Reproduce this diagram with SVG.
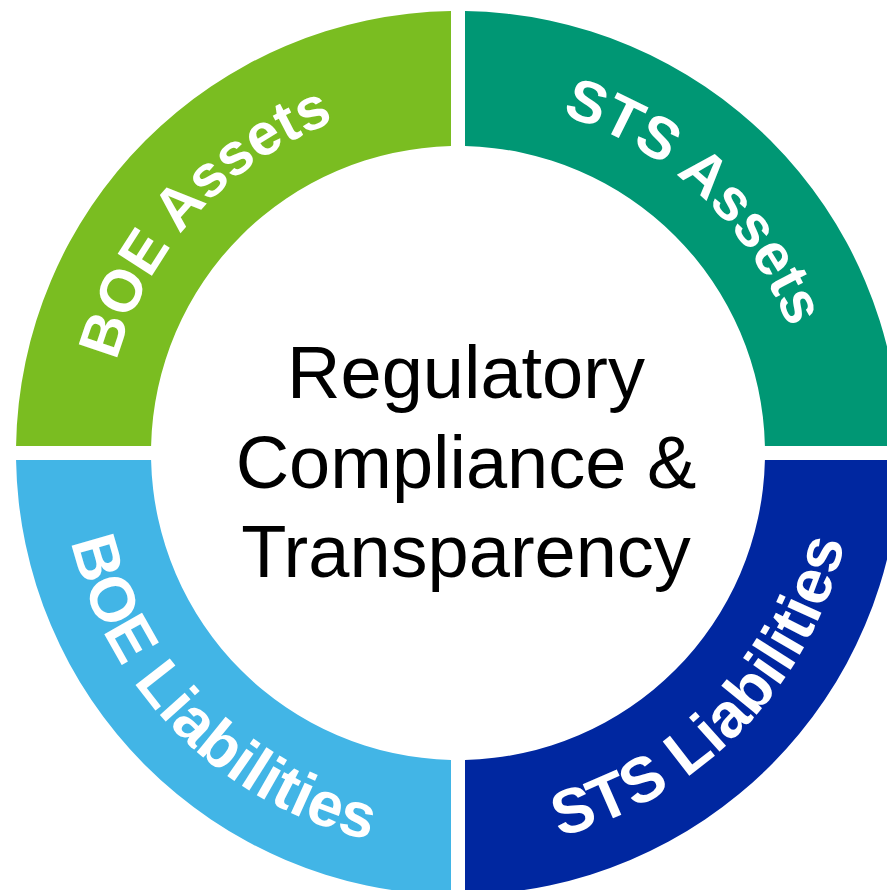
<svg xmlns="http://www.w3.org/2000/svg" xmlns:xlink="http://www.w3.org/1999/xlink" width="887" height="890" viewBox="0 0 887 890">
<style>
.lbl{font-family:"Liberation Sans",Arial,sans-serif;font-weight:bold;fill:#fff;text-anchor:middle}
.ctr{font-family:"Liberation Sans",Arial,sans-serif;font-size:74px;fill:#000;text-anchor:middle}
</style>
<defs>
<path id="topArc" d="M 104.5 453 A 353.5 353.5 0 0 1 811.5 453"/>
<path id="botArc" d="M 61 453 A 397 397 0 0 0 855 453"/>
</defs>
<rect width="887" height="890" fill="#fff"/>
<g id="boe-assets">
<path d="M 451 11.06 A 442 442 0 0 0 16.06 446 L 151.08 446 A 307 307 0 0 1 451 146.08 Z" fill="#7ABD21"/>
<text class="lbl" font-size="59"><textPath xlink:href="#topArc" href="#topArc" startOffset="23.5%">BOE Assets</textPath></text>
</g>
<g id="sts-assets">
<path d="M 465 11.06 A 442 442 0 0 1 899.94 446 L 764.92 446 A 307 307 0 0 0 465 146.08 Z" fill="#009774"/>
<text class="lbl" font-size="59"><textPath xlink:href="#topArc" href="#topArc" startOffset="74%">STS Assets</textPath></text>
</g>
<g id="sts-liabilities">
<path d="M 899.94 460 A 442 442 0 0 1 465 894.94 L 465 759.92 A 307 307 0 0 0 764.92 460 Z" fill="#0027A0"/>
<text class="lbl" font-size="63"><textPath xlink:href="#botArc" href="#botArc" startOffset="75.5%">STS Liabilities</textPath></text>
</g>
<g id="boe-liabilities">
<path d="M 451 894.94 A 442 442 0 0 1 16.06 460 L 151.08 460 A 307 307 0 0 0 451 759.92 Z" fill="#42B5E6"/>
<text class="lbl" font-size="63"><textPath xlink:href="#botArc" href="#botArc" startOffset="25%">BOE Liabilities</textPath></text>
</g>
<g id="center">
<text class="ctr" x="466" y="398">Regulatory</text>
<text class="ctr" x="466" y="487.5">Compliance &amp;</text>
<text class="ctr" x="466" y="577">Transparency</text>
</g>
</svg>
